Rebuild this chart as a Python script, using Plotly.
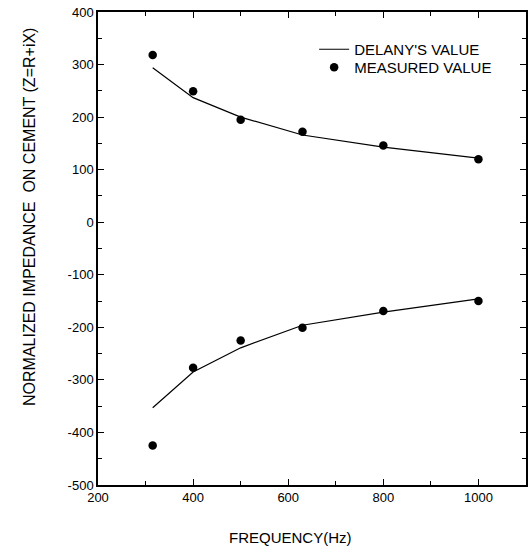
import plotly.graph_objects as go

freq = [315, 400, 500, 630, 800, 1000]
measured_R = [318, 249, 195, 172, 146, 120]
measured_X = [-425, -277, -225, -201, -169, -150]
delany_R = [294, 237, 200, 166, 143, 122]
delany_X = [-353, -285, -239, -196, -171, -146]

x_ticks = [200, 400, 600, 800, 1000]
y_ticks = [400, 300, 200, 100, 0, -100, -200, -300, -400, -500]

FONT = "Liberation Sans, Arial, sans-serif"

fig = go.Figure()
fig.add_trace(go.Scatter(x=freq, y=delany_R, mode="lines", name="DELANY'S VALUE",
                         line=dict(color="black", width=1.2), legend="legend"))
fig.add_trace(go.Scatter(x=freq, y=delany_X, mode="lines", name="DELANY'S VALUE",
                         line=dict(color="black", width=1.2), showlegend=False))
fig.add_trace(go.Scatter(x=freq, y=measured_R, mode="markers", name="MEASURED VALUE",
                         marker=dict(color="black", size=8.5), legend="legend2"))
fig.add_trace(go.Scatter(x=freq, y=measured_X, mode="markers", name="MEASURED VALUE",
                         marker=dict(color="black", size=8.5), showlegend=False))

axis_common = dict(showgrid=False, zeroline=False, showline=True, linecolor="black",
                   linewidth=1.5, mirror="ticks", ticks="inside", ticklen=6,
                   tickcolor="black", tickwidth=1.2, automargin=False,
                   ticklabeloverflow="allow",
                   tickfont=dict(family=FONT, size=13, color="black"))

fig.update_xaxes(range=[200, 1100], tickvals=x_ticks, ticktext=[str(v) for v in x_ticks],
                 minor=dict(dtick=100, ticks="inside", ticklen=4, tickcolor="black", tickwidth=1),
                 **axis_common)
fig.update_yaxes(range=[-500, 400], tickvals=y_ticks, ticktext=[str(v) for v in y_ticks],
                 minor=dict(dtick=50, ticks="inside", ticklen=4, tickcolor="black", tickwidth=1),
                 **axis_common)

leg_common = dict(xanchor="left", yanchor="top", bgcolor="rgba(0,0,0,0)",
                  font=dict(family=FONT, size=15, color="black"), itemwidth=30)
fig.update_layout(
    width=532, height=548,
    margin=dict(l=98, r=6, t=12, b=63),
    plot_bgcolor="white", paper_bgcolor="white",
    font=dict(family=FONT, color="black"),
    legend=dict(x=0.505, y=0.9556, **leg_common),
    legend2=dict(x=0.505, y=0.9175, **leg_common),
    showlegend=True,
)
fig.add_annotation(text="FREQUENCY(Hz)", xref="paper", yref="paper", x=0.45, y=-0.112,
                   xanchor="center", yanchor="middle", showarrow=False,
                   font=dict(family=FONT, size=15, color="black"))
fig.add_annotation(text="NORMALIZED IMPEDANCE  ON CEMENT (Z=R+iX)", xref="paper", yref="paper",
                   x=-0.1585, y=0.567, xanchor="center", yanchor="middle", textangle=-90,
                   showarrow=False, font=dict(family=FONT, size=16, color="black"))

fig.write_html("out.html", config={"displayModeBar": False},
               post_script="document.body.style.margin='0';")
